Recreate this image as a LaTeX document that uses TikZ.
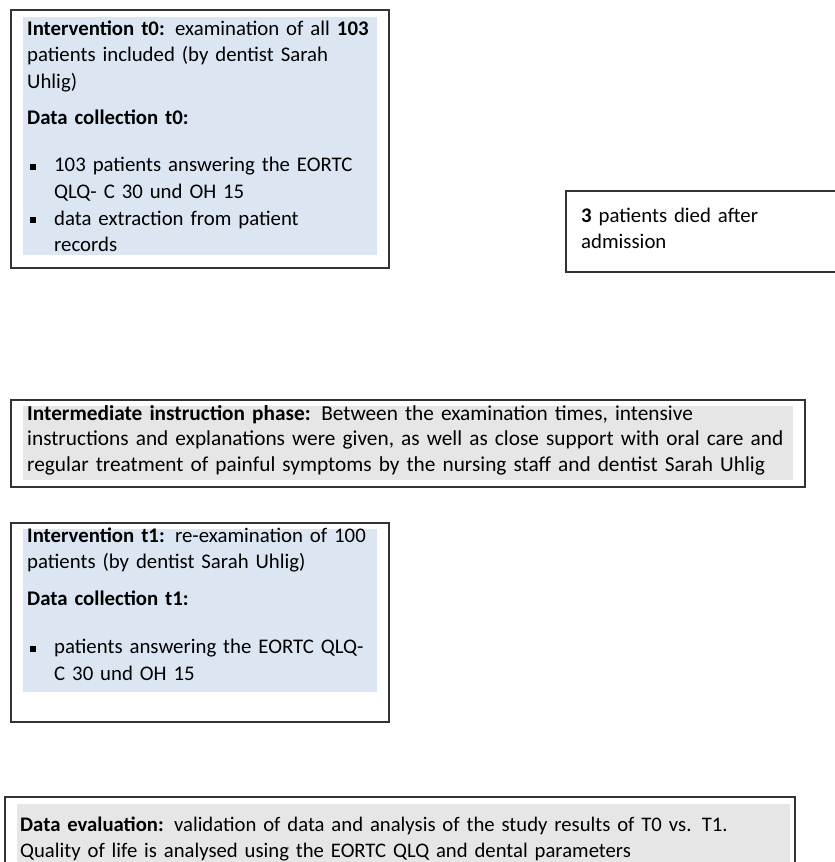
\documentclass[tikz,border=0pt]{standalone}
\usepackage{fontspec}
\setmainfont{Carlito}
\usepackage{xcolor}
\usetikzlibrary{positioning}
\definecolor{paleblue}{HTML}{DCE6F2}
\definecolor{palegray}{HTML}{E6E6E6}
\definecolor{framegray}{HTML}{333333}
\newcommand{\sqbul}{\hspace*{3pt}\makebox[24pt][l]{\rule[2pt]{6pt}{6pt}}}
\newcommand{\sqind}{\hspace*{27pt}}
\begin{document}
\begin{tikzpicture}[x=1pt, y=-1pt,
  frame/.style={draw=framegray, line width=1.5pt},
  txtbox/.style={anchor=base west, inner sep=0pt, align=left, text width=#1,
    font=\fontsize{20.8}{26.6}\selectfont}]
\useasboundingbox (0,0) rectangle (835,862);
\clip (0,0) rectangle (835,862);
% --- t0 ---
\fill[paleblue] (23,17) rectangle (377,255);
\draw[frame] (11,10) rectangle (389,268);
\node[txtbox=420pt] (tzero) at (27,35) {\textbf{Intervention t0:} examination of all \textbf{103}\\
  patients included (by dentist Sarah\\
  Uhlig)\\[9.5pt]
  \textbf{Data collection t0:}\\[21pt]
  \sqbul 103 patients answering the EORTC\\
  \sqind QLQ- C 30 und OH 15\\
  \sqbul data extraction from patient\\
  \sqind records};
% --- deaths ---
\draw[frame] (850,191) -- (566,191) -- (566,272) -- (850,272);
\node[txtbox=300pt] (died) at (581,222) {\textbf{3} patients died after\\admission};
% --- instruction phase ---
\fill[palegray] (23,406) rectangle (793,480);
\draw[frame] (11,400) rectangle (805,487);
\node[txtbox=820pt, font=\fontsize{21.3}{25.5}\selectfont] (instr) at (27,420) {\textbf{Intermediate instruction phase:} Between the examination times, intensive\\
  instructions and explanations were given, as well as close support with oral care and\\
  regular treatment of painful symptoms by the nursing staff and dentist Sarah Uhlig};
% --- t1 ---
\fill[paleblue] (23,529) rectangle (377,692);
\draw[frame] (11,523) rectangle (389,722);
\node[txtbox=420pt] (tone) at (27,542) {\textbf{Intervention t1:} re-examination of 100\\
  patients (by dentist Sarah Uhlig)\\[10pt]
  \textbf{Data collection t1:}\\[22pt]
  \sqbul patients answering the EORTC QLQ-\\
  \sqind C 30 und OH 15};
% --- evaluation ---
\fill[palegray] (17,804) rectangle (790,880);
\draw[frame] (5,880) -- (5,797) -- (795,797) -- (795,880);
\node[txtbox=820pt, font=\fontsize{20.7}{26}\selectfont] (eval) at (20,831) {\textbf{Data evaluation:} validation of data and analysis of the study results of T0 vs. T1.\\
  Quality of life is analysed using the EORTC QLQ and dental parameters};
\end{tikzpicture}
\end{document}
